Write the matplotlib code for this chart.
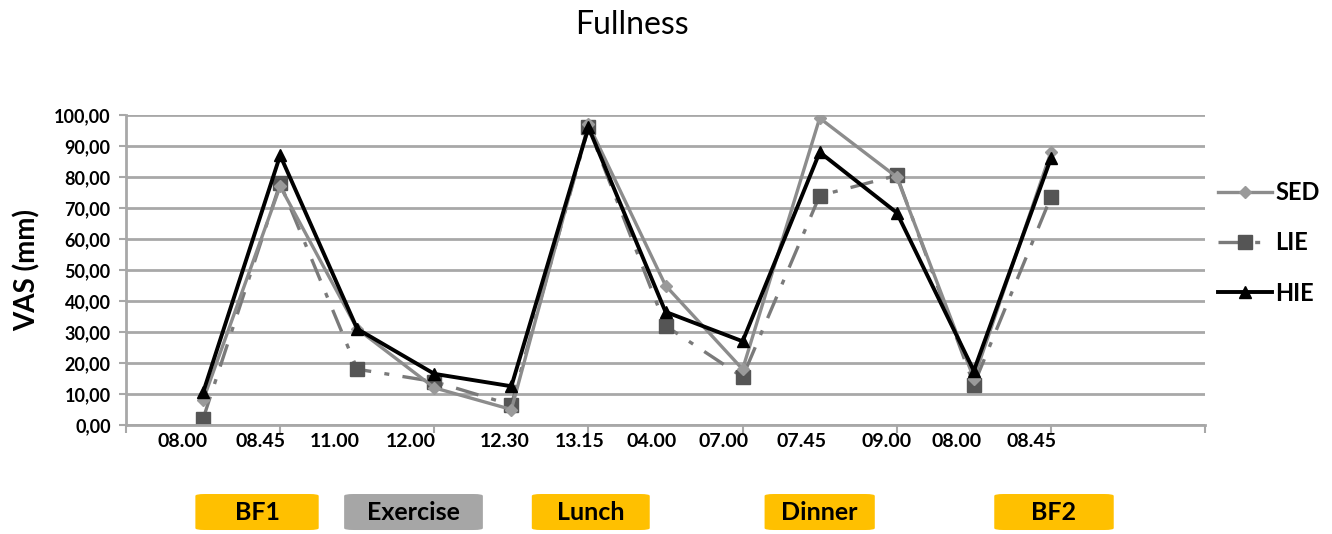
import matplotlib
matplotlib.use("Agg")
import matplotlib.pyplot as plt
from matplotlib.patches import FancyBboxPatch
import matplotlib.transforms as mtransforms

plt.rcParams['font.family'] = ['Lato', 'DejaVu Sans']

# ---- data ----
x_pos = [1, 2, 3, 4, 5, 6, 7, 8, 9, 10, 11, 12]
time_labels = ["08.00", "08.45", "11.00", "12.00", "12.30", "13.15",
               "04.00", "07.00", "07.45", "09.00", "08.00", "08.45"]
time_label_x = [0.74, 1.75, 2.71, 3.7, 4.91, 5.88, 6.82, 7.75, 8.77, 9.87, 10.78, 11.75]
sed = [8, 77, 31, 12, 5, 97, 45, 18, 99, 80, 15, 88]
lie = [2, 78, 18, 14, 6.5, 96, 32, 15.5, 74, 80.5, 13, 73.5]
hie = [10.5, 87, 31, 16.5, 12.5, 96, 36.5, 27, 88, 68.5, 17.5, 86]
y_ticks = [0, 10, 20, 30, 40, 50, 60, 70, 80, 90, 100]
meals = ["BF1", "Exercise", "Lunch", "Dinner", "BF2"]
meal_center = [1.7, 3.73, 6.03, 9.0, 12.04]
meal_width = [1.6, 1.8, 1.53, 1.43, 1.55]
meal_color = ["#FFC000", "#A6A6A6", "#FFC000", "#FFC000", "#FFC000"]

fig = plt.figure(figsize=(13.32, 5.34), dpi=100)
ax = fig.add_axes([0.0946, 0.2041, 0.8101, 0.5805])

grid_c = "#A8A8A8"
for v in y_ticks:
    ax.axhline(v, color=grid_c, lw=2, zorder=0)

ax.plot(x_pos, sed, color="#8C8C8C", lw=2.4, marker="D", ms=6,
        mfc="#9A9A9A", mec="#9A9A9A", label="SED", zorder=3)
ax.plot(x_pos, lie, color="#7A7A7A", lw=2.4, ls=(0, (7, 4, 1.5, 4)), marker="s", ms=10,
        mfc="#555555", mec="#555555", label="LIE", zorder=2)
ax.plot(x_pos, hie, color="black", lw=2.8, marker="^", ms=9,
        mfc="black", mec="black", label="HIE", zorder=4)

ax.set_xlim(0, 14)
ax.set_ylim(0, 100)
ax.set_yticks(y_ticks)
ax.set_yticklabels([f"{v:.2f}".replace(".", ",") for v in y_ticks],
                   fontsize=13, fontweight="bold")
ax.set_xticks(range(0, 15, 2))
ax.set_xticklabels([])
ax.tick_params(axis="y", length=5, width=1.5, color=grid_c, pad=6)
ax.tick_params(axis="x", length=6, width=1.5, color=grid_c)
for s in ["top", "right"]:
    ax.spines[s].set_visible(False)
for s in ["left", "bottom"]:
    ax.spines[s].set_color(grid_c)
    ax.spines[s].set_linewidth(2)

ax.set_ylabel("VAS (mm)", fontsize=20, fontweight="bold", labelpad=10)

trans = mtransforms.blended_transform_factory(ax.transData, ax.transAxes)
for xl, t in zip(time_label_x, time_labels):
    ax.text(xl, -0.052, t, transform=trans, ha="center", va="center",
            fontsize=14, fontweight="bold", clip_on=False)

for name, c, w, col in zip(meals, meal_center, meal_width, meal_color):
    box = FancyBboxPatch((c - w / 2, -0.3387), w, 0.1161,
                         boxstyle="round,pad=0,rounding_size=0.12",
                         transform=trans, facecolor=col, edgecolor="none",
                         clip_on=False, mutation_aspect=0.05)
    ax.add_patch(box)
    ax.text(c, -0.2807, name, transform=trans, ha="center", va="center",
            fontsize=18, fontweight="bold", clip_on=False)

fig.text(0.4745, 0.953, "Fullness", ha="center", va="center", fontsize=23)

leg = ax.legend(loc="center left", bbox_to_anchor=(0.907, 0.545),
                bbox_transform=fig.transFigure, frameon=False, borderaxespad=0,
                prop={"size": 17, "weight": "bold"}, handlelength=2.3,
                handletextpad=0.15, labelspacing=1.15)

fig.savefig("out.png", dpi=100)
